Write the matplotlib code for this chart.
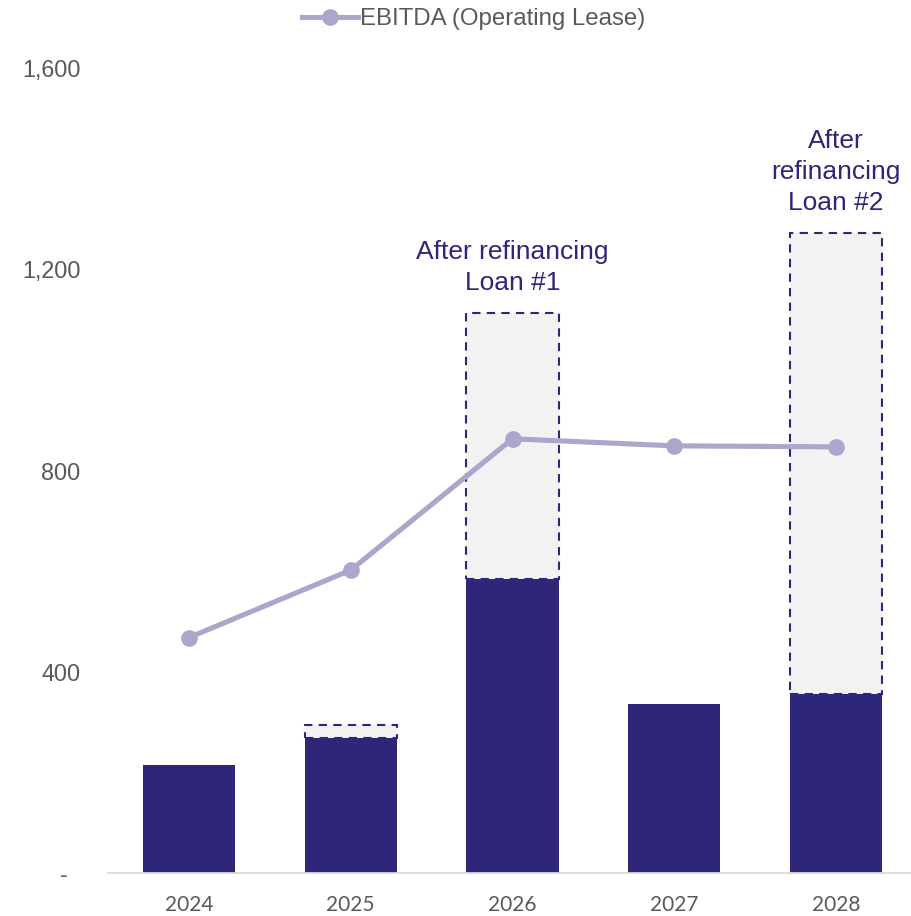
import numpy as np
import matplotlib.pyplot as plt
from matplotlib.ticker import FuncFormatter

years = ['2024', '2025', '2026', '2027', '2028']
debt = [215, 268, 584, 336, 356]
after_refi = [0, 294, 1113, 0, 1272]
ebitda = [468, 602, 863, 849, 847]

notes = {2: 'After refinancing\nLoan #1', 4: 'After\nrefinancing\nLoan #2'}

dark = '#2E2679'
lilac = '#ABA6CB'
grey_txt = '#595959'

fig = plt.figure(figsize=(9.11, 9.16), dpi=100)
ax = fig.add_axes([0.1186, 0.0469, 0.888, 0.8789])

x = np.arange(len(years))
width = 0.57

ax.bar(x, debt, width, color=dark, zorder=2)

# dashed boxes for the extra headroom after refinancing
extra = [a - d if a > 0 else 0 for a, d in zip(after_refi, debt)]
for i in range(len(years)):
    if extra[i] > 0:
        ax.bar(x[i], extra[i], width, bottom=debt[i], color='#F2F2F2',
               edgecolor=dark, linestyle=(0, (4, 3)), linewidth=1.5, zorder=2)

line, = ax.plot(x, ebitda, color=lilac, linewidth=3.7, marker='o',
                markersize=11, zorder=3, label='EBITDA (Operating Lease)')

for i, txt in notes.items():
    ax.annotate(txt, xy=(x[i], after_refi[i]), xytext=(0, 13),
                textcoords='offset points', ha='center', va='bottom',
                fontsize=19, color=dark, family='Liberation Sans',
                linespacing=1.38)

ax.set_xlim(-0.5, 4.5)
ax.set_ylim(0, 1600)
ax.set_yticks([0, 400, 800, 1200, 1600])
# excel style: zero shown as a dash
ax.yaxis.set_major_formatter(FuncFormatter(lambda v, p: '-  ' if v == 0 else '{:,.0f}'.format(v)))
ax.set_xticks(x)
ax.set_xticklabels(years)

for lab in ax.get_yticklabels():
    lab.set_fontfamily('Liberation Sans')
    lab.set_fontsize(16.8)
    lab.set_color(grey_txt)
for lab in ax.get_xticklabels():
    lab.set_fontfamily('Lato')
    lab.set_fontsize(15)
    lab.set_color(grey_txt)

ax.tick_params(axis='y', length=0, pad=20)
ax.tick_params(axis='x', length=0, pad=16)

for s in ['top', 'right', 'left']:
    ax.spines[s].set_visible(False)
ax.spines['bottom'].set_color('#D9D9D9')
ax.spines['bottom'].set_linewidth(1.3)

fig.legend(handles=[line], loc='center', bbox_to_anchor=(0.52, 0.979),
           frameon=False, handlelength=2.3, handletextpad=0.1,
           prop={'family': 'Liberation Sans', 'size': 17.3}, labelcolor=grey_txt)

plt.savefig('out.png', dpi=100)
